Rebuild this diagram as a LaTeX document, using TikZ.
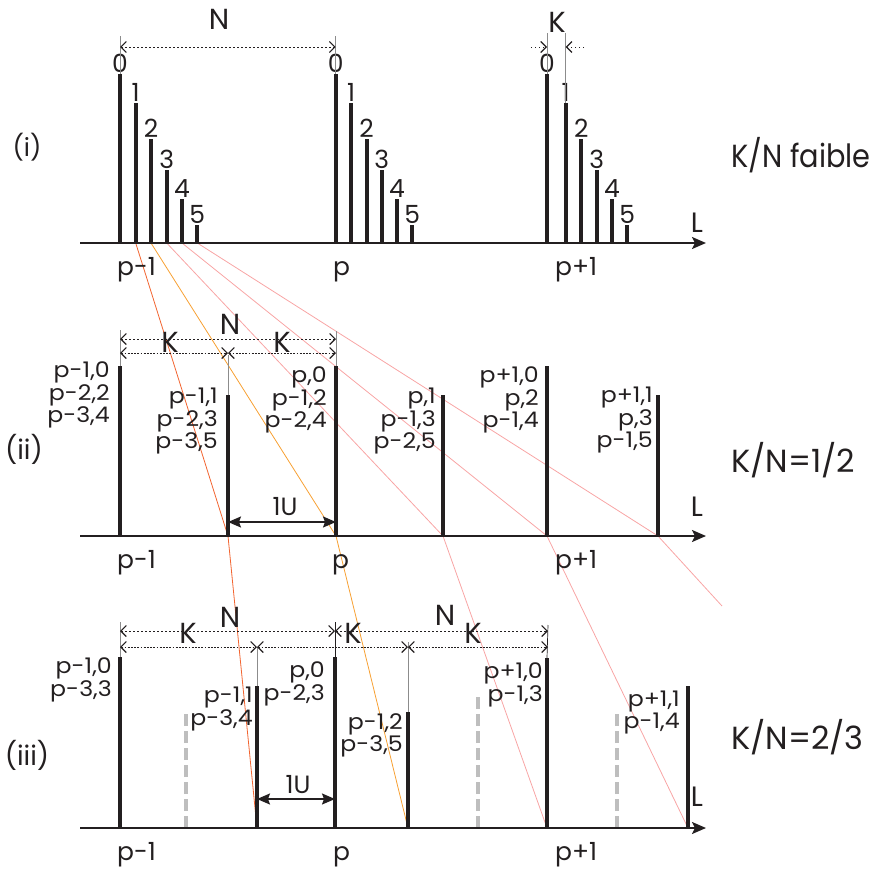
\documentclass[tikz,border=0pt]{standalone}
\usepackage{fontspec}
\setmainfont{Poppins}
\newfontfamily\zzwide[FakeStretch=1.1]{Poppins}
\newfontfamily\zznarrow[FakeStretch=0.9]{Poppins}
\usetikzlibrary{arrows.meta}
\definecolor{ink}{RGB}{35,31,32}
\definecolor{redl}{RGB}{242,100,48}
\definecolor{orgl}{RGB}{247,160,50}
\definecolor{pinkl}{RGB}{248,165,165}
\definecolor{grayb}{RGB}{190,190,190}
\definecolor{extc}{RGB}{140,140,140}
\newcommand\zzdig{\fontsize{25}{25}\selectfont}
\newcommand\zztick{\fontsize{25}{25}\selectfont}
\newcommand\zzlab{\zzwide\fontsize{21.5}{20}\selectfont}
\newcommand\zzdim{\fontsize{29}{29}\selectfont}
\newcommand\zzone{\fontsize{25}{25}\selectfont}
\newcommand\zzell{\fontsize{28}{28}\selectfont}
\newcommand\zzkn{\fontsize{32}{32}\selectfont}
\newcommand\zzknf{\zznarrow\fontsize{32}{32}\selectfont}
\newcommand\zzroma{\fontsize{25}{25}\selectfont}
\newcommand\zzromb{\fontsize{27}{27}\selectfont}
\begin{document}
\begin{tikzpicture}[x=1pt,y=-1pt,
  every node/.style={inner sep=0pt,text=ink},
  bar/.style={line width=4pt,draw=ink},
  gbar/.style={line width=4pt,draw=grayb,dash pattern=on 12pt off 5pt},
  axisl/.style={line width=2.2pt,draw=ink,-{Stealth[length=14pt,width=12pt,inset=3pt]}},
  extl/.style={line width=0.7pt,draw=extc},
  dimA/.style={line width=1pt,draw=ink,dash pattern=on 1.4pt off 2.6pt,
     >={Straight Barb[length=5.5pt,width=11pt,line width=1.1pt]},<->},
  dimB/.style={dimA,dash pattern=on 1.8pt off 1.4pt},
  onearr/.style={line width=1.6pt,draw=ink,>={Stealth[length=13pt,width=11pt,inset=2pt]},<->},
  link/.style={line width=0.8pt},
  lab/.style={font=\zzlab,align=right,anchor=north east},
  tick/.style={font=\zztick,anchor=base west},
  dimlab/.style={font=\zzdim},
]
\useasboundingbox (0,0) rectangle (879,870);

% ---------- coordinates (bar bases) ----------
\foreach \n/\x in {A0/120,A1/135.7,A2/151,A3/166.7,A4/182,A5/197.3,
                   B0/335.7,B1/351,B2/366.5,B3/381.7,B4/396.9,B5/412.3,
                   C0/547,C1/565.7,C2/581.3,C3/596.7,C4/612,C5/627.3}
  \coordinate (\n) at (\x,243);
\foreach \n/\x in {P0/120,P1/228,P2/336,P3/443,P4/547,P5/658}
  \coordinate (\n) at (\x,536);
\foreach \n/\x in {Q0/120,Q1/257,Q2/335,Q3/408,Q4/547,Q5/688}
  \coordinate (\n) at (\x,828);
\coordinate (E5) at (722,606);

% ---------- coloured links ----------
\draw[link,redl] (A1) -- (P1) -- (Q1);
\draw[link,orgl] (A2) -- (P2) -- (Q3);
\draw[link,pinkl] (A3) -- (P3) -- (Q4);
\draw[link,pinkl] (A4) -- (P4) -- (Q5);
\draw[link,pinkl] (A5) -- (P5) -- (E5);

% ---------- panel (i) ----------
\coordinate (Ia) at (80,243);
\coordinate (Ib) at (706,243);
\draw[axisl] (Ia) -- (Ib);
\foreach \n/\x/\t/\l in {A0/120/74/0,A1/135.7/103/1,A2/151/139/2,A3/166.7/170/3,A4/182/199/4,A5/197.3/225/5,
                         B0/335.7/74/0,B1/351/103/1,B2/366.5/139/2,B3/381.7/170/3,B4/396.9/199/4,B5/412.3/225/5,
                         C0/547/74/0,C1/565.7/103/1,C2/581.3/139/2,C3/596.7/170/3,C4/612/199/4,C5/627.3/225/5}{
  \coordinate (t\n) at (\x,\t);
  \draw[bar] (\n) -- (t\n);
  \node[font=\zzdig,anchor=base] (l\n) at (\x,\t-1.5) {\l};
}
% N dimension
\coordinate (ia1) at (120,36); \coordinate (ia2) at (120,74);
\coordinate (ib1) at (335.7,36); \coordinate (ib2) at (335.7,74);
\draw[extl] (ia1) -- (ia2);
\draw[extl] (ib1) -- (ib2);
\coordinate (iN1) at (120,47); \coordinate (iN2) at (335.7,47);
\draw[dimA] (iN1) -- (iN2);
\node[dimlab] (iN) at (219,19) {N};
% K dimension
\coordinate (ic1) at (547,33); \coordinate (id1) at (565.7,33);
\draw[extl] (ic1) -- (tC0);
\draw[extl] (id1) -- (tC1);
\coordinate (iK1) at (531,47); \coordinate (iK2) at (547,47);
\coordinate (iK3) at (584,47); \coordinate (iK4) at (565.7,47);
\draw[dimA,->] (iK1) -- (iK2);
\draw[dimA,->] (iK3) -- (iK4);
\node[dimlab] (iK) at (557,22) {K};
\node[tick] (it1) at (117,275) {p-1};
\node[tick] (it2) at (333,275) {p};
\node[tick] (it3) at (555,275) {p+1};
\node[font=\zzell] (iL) at (697,223) {L};
\node[font=\zzknf,anchor=west] (ikn) at (731,155) {K/N faible};
\node[font=\zzroma] (irom) at (27,147) {(i)};

% ---------- panel (ii) ----------
\coordinate (IIa) at (80,536);
\coordinate (IIb) at (706,536);
\draw[axisl] (IIa) -- (IIb);
\foreach \n/\x/\t in {P0/120/366,P1/228/395,P2/336/366,P3/443/395,P4/547/366,P5/658/395}{
  \coordinate (t\n) at (\x,\t);
  \draw[bar] (\n) -- (t\n);
}
\node[lab] (l0) at (110,362) {p-1,0\\p-2,2\\p-3,4};
\node[lab] (l1) at (218,388) {p-1,1\\p-2,3\\p-3,5};
\node[lab] (l2) at (327,367) {p,0\\p-1,2\\p-2,4};
\node[lab] (l3) at (436,388) {p,1\\p-1,3\\p-2,5};
\node[lab] (l4) at (539,367) {p+1,0\\p,2\\p-1,4};
\node[lab] (l5) at (653,387) {p+1,1\\p,3\\p-1,5};
% dimensions
\coordinate (iie0) at (120,330); \coordinate (iie1) at (228,355); \coordinate (iie2) at (336,331);
\draw[extl] (iie0) -- (tP0);
\draw[extl] (iie1) -- (tP1);
\draw[extl] (iie2) -- (tP2);
\coordinate (iiN1) at (120,339); \coordinate (iiN2) at (336,339);
\draw[dimA] (iiN1) -- (iiN2);
\coordinate (iiK1) at (120,353); \coordinate (iiK2) at (228,353); \coordinate (iiK3) at (336,353);
\draw[dimB] (iiK1) -- (iiK2);
\draw[dimB] (iiK2) -- (iiK3);
\node[dimlab] (iiN) at (230,324) {N};
\node[dimlab] (iiKa) at (170,342) {K};
\node[dimlab] (iiKb) at (282,342) {K};
% 1U
\coordinate (iiU1) at (228,522); \coordinate (iiU2) at (336,522);
\draw[onearr] (iiU1) -- (iiU2);
\node[font=\zzone] (iiU) at (285,507) {1U};
\node[tick] (iit1) at (117,568) {p-1};
\node[tick] (iit2) at (332,568) {p};
\node[tick] (iit3) at (555,568) {p+1};
\node[font=\zzell] (iiL) at (697,507) {L};
\node[font=\zzkn,anchor=west] (iikn) at (731,460) {K/N=1/2};
\node[font=\zzromb] (iirom) at (24,449) {(ii)};

% ---------- panel (iii) ----------
\coordinate (IIIa) at (80,828);
\coordinate (IIIb) at (706,828);
\foreach \n/\x/\t in {G0/186/714,G1/478/696,G2/617/714}{
  \coordinate (\n) at (\x,828);
  \coordinate (t\n) at (\x,\t);
  \draw[gbar] (\n) -- (t\n);
}
\draw[axisl] (IIIa) -- (IIIb);
\foreach \n/\x/\t in {Q0/120/657,Q1/257/686,Q2/335/657,Q3/408/712,Q4/547/658,Q5/688/686}{
  \coordinate (t\n) at (\x,\t);
  \draw[bar] (\n) -- (t\n);
}
\node[lab] (m0) at (112,658) {p-1,0\\p-3,3};
\node[lab] (m1) at (253,687) {p-1,1\\p-3,4};
\node[lab] (m2) at (325,662) {p,0\\p-2,3};
\node[lab] (m3) at (403,713) {p-1,2\\p-3,5};
\node[lab] (m4) at (543,663) {p+1,0\\p-1,3};
\node[lab] (m5) at (680,691) {p+1,1\\p-1,4};
% dimensions
\coordinate (iiie0) at (120,622); \coordinate (iiie1) at (257,647);
\coordinate (iiie2) at (335,622); \coordinate (iiie3) at (408,642);
\coordinate (iiie4) at (548,625);
\draw[extl] (iiie0) -- (tQ0);
\draw[extl] (iiie1) -- (tQ1);
\draw[extl,draw=ink] (iiie2) -- (tQ2);
\draw[extl] (iiie3) -- (tQ3);
\draw[extl,draw=ink] (iiie4) -- (tQ4);
\coordinate (iiiN1) at (120,631); \coordinate (iiiN2) at (335,631); \coordinate (iiiN3) at (548,631);
\draw[dimA] (iiiN1) -- (iiiN2);
\draw[dimA] (iiiN2) -- (iiiN3);
\coordinate (iiiK1) at (120,647); \coordinate (iiiK2) at (257,647);
\coordinate (iiiK3) at (408,647); \coordinate (iiiK4) at (548,647);
\draw[dimB] (iiiK1) -- (iiiK2);
\draw[dimB] (iiiK2) -- (iiiK3);
\draw[dimB] (iiiK3) -- (iiiK4);
\node[dimlab] (iiiNa) at (230,617) {N};
\node[dimlab] (iiiNb) at (445,615) {N};
\node[dimlab] (iiiKa) at (188,633) {K};
\node[dimlab] (iiiKb) at (353,633) {K};
\node[dimlab] (iiiKc) at (473,633) {K};
% 1U
\coordinate (iiiU1) at (257,799); \coordinate (iiiU2) at (335,799);
\draw[onearr] (iiiU1) -- (iiiU2);
\node[font=\zzone] (iiiU) at (298,785) {1U};
\node[tick] (iiit1) at (117,860) {p-1};
\node[tick] (iiit2) at (333,860) {p};
\node[tick] (iiit3) at (555,860) {p+1};
\node[font=\zzell] (iiiL) at (697,797) {L};
\node[font=\zzkn,anchor=west] (iiikn) at (731,737) {K/N=2/3};
\node[font=\zzromb] (iiirom) at (27,755) {(iii)};
\end{tikzpicture}
\end{document}
